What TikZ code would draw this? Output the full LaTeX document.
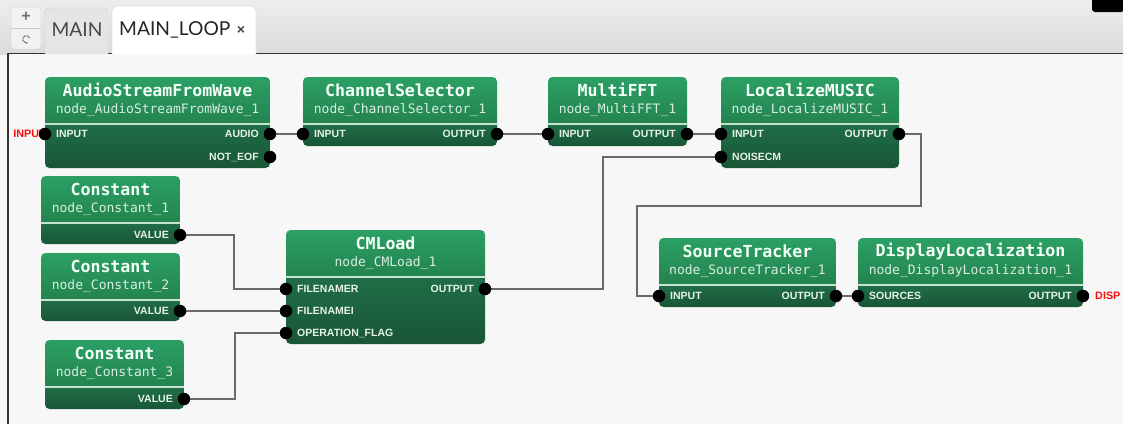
\documentclass[tikz,border=0pt]{standalone}
\usepackage{fontspec}
\setmainfont{Liberation Sans}
\newfontfamily\titlefont{DejaVu Sans Mono}
\newfontfamily\portfont{Liberation Sans}
\newfontfamily\tabfont{Lato}
\usetikzlibrary{calc,arrows.meta}
\pgfdeclarelayer{bg}\pgfdeclarelayer{edges}
\pgfsetlayers{bg,edges,main}
\definecolor{htop}{HTML}{2BA064}
\definecolor{hbot}{HTML}{23834F}
\definecolor{ptop}{HTML}{1F6D46}
\definecolor{pbot}{HTML}{195636}
\definecolor{sepc}{HTML}{C5E3CF}
\definecolor{wire}{HTML}{6A6A6A}
\definecolor{canvas}{HTML}{F7F7F7}
\definecolor{txtw}{HTML}{F4FFF7}
\definecolor{txts}{HTML}{D9EDE0}
\definecolor{portc}{HTML}{E6F2EA}
\definecolor{redlbl}{HTML}{F81010}
\tikzset{
 dot/.style={circle, fill=black, minimum size=12.5pt, inner sep=0pt},
 ttl/.style={text=txtw, font=\titlefont\bfseries\fontsize{16.6}{16.6}\selectfont, inner sep=0pt},
 sub/.style={text=txts, font=\titlefont\fontsize{13}{13}\selectfont, inner sep=0pt},
 plbl/.style={text=portc, font=\portfont\bfseries\fontsize{10.5}{10.5}\selectfont, inner sep=0pt},
 extlbl/.style={text=redlbl, font=\portfont\bfseries\fontsize{10.8}{10.8}\selectfont, inner sep=0pt},
 wirestyle/.style={draw=wire, line width=1.6pt},
 tabtext/.style={font=\tabfont\fontsize{19.2}{19.2}\selectfont, inner sep=0pt},
}
\newcommand\gblock[7]{%
 \begin{scope}
 \clip[rounded corners=4.5pt] (#2,#4) rectangle (#3,#5);
 \shade[top color=htop, bottom color=hbot] (#2,#4) rectangle (#3,{#4+47});
 \shade[top color=ptop, bottom color=pbot] (#2,{#4+47}) rectangle (#3,#5);
 \end{scope}
 \draw[sepc, line width=1.2pt] (#2,{#4+47}) -- (#3,{#4+47});
 \node[ttl] (#1-title) at ({(#2+#3)/2},{#4+13}) {#6};
 \node[sub] (#1-sub) at ({(#2+#3)/2},{#4+33}) {#7};
}
\newcommand\inport[4]{\node[plbl, anchor=base west] (#1-l) at ({#2+11},{#3+3.8}) {#4};\node[dot] (#1) at (#2,#3) {};}
\newcommand\outport[4]{\node[plbl, anchor=base east] (#1-l) at ({#2-11},{#3+3.8}) {#4};\node[dot] (#1) at (#2,#3) {};}
\begin{document}
\begin{tikzpicture}[x=1pt,y=-1pt]
\useasboundingbox (0,0) rectangle (1123,424);
\begin{pgfonlayer}{bg}
 \fill[white!97!black] (0,0) rectangle (1123,424);
 \shade[top color=black!7, bottom color=black!14] (0,0) rectangle (1123,54);
 \fill[canvas] (8,54) rectangle (1123,424);
 \draw[black!80, line width=1.3pt] (8,424) -- (8,53.5) -- (1123,53.5);
 % buttons
 \draw[black!20, fill=black!5, rounded corners=3pt] (11,7) rectangle (41,49);
 \draw[black!20] (11,28) -- (41,28);
 \node[font=\portfont\bfseries\fontsize{16}{16}\selectfont, text=black!55, inner sep=0pt] (plus) at (26,17) {+};
 \draw[black!55, line width=0.9pt, -{Stealth[length=2.5pt]}] (29.5,38) arc[start angle=20, end angle=300, radius=3.5pt];
 % tabs
 \draw[black!20, fill=black!10, rounded corners=4pt] (45,54) -- (45,8) -- (108,8) -- (108,54);
 \node[tabtext, text=black!72] (tabmain) at (77,30) {MAIN};
 \draw[black!22, fill=white, rounded corners=4pt] (112,54) -- (112,6) -- (256,6) -- (256,54);
 \node[tabtext, text=black!85, anchor=west] (tabloop) at (119,30) {MAIN\_LOOP};
 \node[font=\portfont\bfseries\fontsize{14}{14}\selectfont, text=black!75, inner sep=0pt] (tabx) at (241,30) {×};
 \fill[black, rounded corners=3pt] (1092,-5) rectangle (1124,12);
\end{pgfonlayer}
% blocks
\gblock{asw}{45}{270}{77}{168}{AudioStreamFromWave}{node\_AudioStreamFromWave\_1}
\gblock{cs}{303}{497}{77}{146}{ChannelSelector}{node\_ChannelSelector\_1}
\gblock{mf}{548}{687}{77}{146}{MultiFFT}{node\_MultiFFT\_1}
\gblock{lm}{721}{899}{77}{168}{LocalizeMUSIC}{node\_LocalizeMUSIC\_1}
\gblock{c1}{41}{180}{176}{244}{Constant}{node\_Constant\_1}
\gblock{c2}{41}{180}{253}{321}{Constant}{node\_Constant\_2}
\gblock{c3}{45}{184}{340}{409}{Constant}{node\_Constant\_3}
\gblock{cml}{286}{485}{230}{344}{CMLoad}{node\_CMLoad\_1}
\gblock{st}{659}{836}{238}{307}{SourceTracker}{node\_SourceTracker\_1}
\gblock{dl}{858}{1083}{238}{307}{DisplayLocalization}{node\_DisplayLocalization\_1}
% external labels
\node[extlbl, anchor=base east] (extin) at (46,137.8) {INPUT};
\node[extlbl, anchor=base west] (extout) at (1095,299.8) {DISP};
% ports
\inport{asw-in}{45}{134}{INPUT}
\outport{asw-audio}{270}{134}{AUDIO}
\outport{asw-eof}{270}{157}{NOT\_EOF}
\inport{cs-in}{303}{134}{INPUT}
\outport{cs-out}{497}{134}{OUTPUT}
\inport{mf-in}{548}{134}{INPUT}
\outport{mf-out}{687}{134}{OUTPUT}
\inport{lm-in}{721}{134}{INPUT}
\inport{lm-noise}{721}{157}{NOISECM}
\outport{lm-out}{899}{134}{OUTPUT}
\outport{c1-v}{180}{235}{VALUE}
\outport{c2-v}{180}{311}{VALUE}
\outport{c3-v}{184}{399}{VALUE}
\inport{cml-fr}{286}{289}{FILENAMER}
\inport{cml-fi}{286}{311}{FILENAMEI}
\inport{cml-op}{286}{333}{OPERATION\_FLAG}
\outport{cml-out}{485}{289}{OUTPUT}
\inport{st-in}{659}{296}{INPUT}
\outport{st-out}{836}{296}{OUTPUT}
\inport{dl-in}{858}{296}{SOURCES}
\outport{dl-out}{1083}{296}{OUTPUT}
% wires
\begin{pgfonlayer}{edges}
\draw[wirestyle] (asw-audio.center) -- (cs-in.center);
\draw[wirestyle] (cs-out.center) -- (mf-in.center);
\draw[wirestyle] (mf-out.center) -- (lm-in.center);
\draw[wirestyle] (lm-out.center) -| ++(22,72) -- ++(-284,0) |- (st-in.center);
\draw[wirestyle] (cml-out.center) -- ++(118,0) |- (lm-noise.center);
\draw[wirestyle] (c1-v.center) -- ++(54,0) |- (cml-fr.center);
\draw[wirestyle] (c2-v.center) -- (cml-fi.center);
\draw[wirestyle] (c3-v.center) -- ++(51,0) |- (cml-op.center);
\draw[wirestyle] (st-out.center) -- (dl-in.center);
\end{pgfonlayer}
\end{tikzpicture}
\end{document}
